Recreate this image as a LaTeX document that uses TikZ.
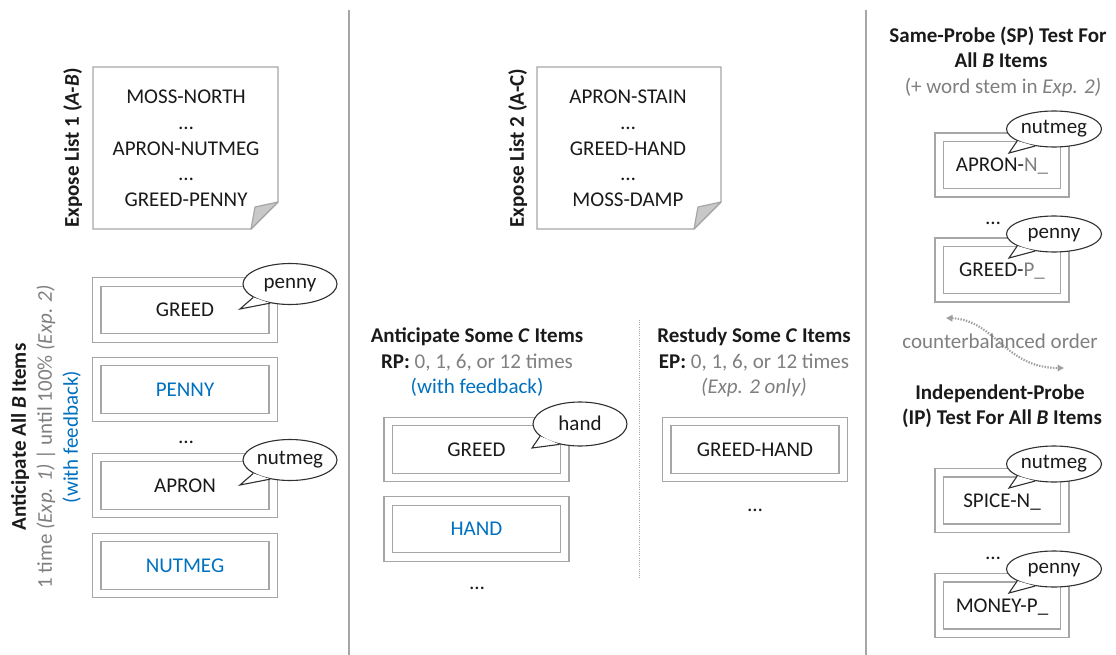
\documentclass[tikz,border=0pt]{standalone}
\usepackage{fontspec}
\setmainfont{Carlito}
\usetikzlibrary{shapes.geometric,arrows.meta}
\definecolor{txt}{HTML}{1A1A1A}
\definecolor{gtxt}{HTML}{7F7F7F}
\definecolor{btxt}{HTML}{0070C0}
\definecolor{boxln}{HTML}{A6A6A6}
\definecolor{sepln}{HTML}{A6A6A6}
\definecolor{foldc}{HTML}{C8C8C8}
\definecolor{bubln}{HTML}{303030}
\definecolor{cbln}{HTML}{A0A0A0}
\newcommand{\mybub}[7]{%
  \node[bubble,#7] (#1) at (#2) {\makebox[0pt]{#3}};
  \coordinate (#1tip) at (#6);
  \fill[white] (#1.#4) -- (#1tip) -- (#1.#5) -- cycle;
  \draw[tail] (#1.#4) -- (#1tip) -- (#1.#5);
}
\begin{document}
\begin{tikzpicture}[x=1pt,y=-1pt,
  every node/.style={font=\fontsize{21}{25.5}\selectfont, text=txt, inner sep=0pt},
  captext/.style={text height=13.5pt, text depth=0pt},
  itembox/.style={captext, draw=boxln, line width=1.15pt, double=white, double distance=7.3pt,
    minimum width=176.5pt, minimum height=56pt},
  smallbox/.style={itembox, minimum width=125.5pt, minimum height=55.5pt},
  bubble/.style={ellipse, draw=bubln, line width=1.1pt, fill=white,
    text height=9pt, text depth=0pt,
    minimum width=94pt, minimum height=41pt},
  rbubble/.style={minimum width=95pt, minimum height=36pt},
  hbubble/.style={minimum height=44pt, text height=12pt},
  tail/.style={draw=bubln, line width=1.1pt, line join=miter},
  note/.style={draw=boxln, line width=1.2pt, fill=white},
  fold/.style={draw=boxln, line width=1.2pt, fill=foldc, line join=round},
  sep/.style={draw=sepln, line width=1.6pt},
  midsep/.style={draw=sepln, line width=1pt, dash pattern=on 1pt off 1.2pt},
  cbarrow/.style={draw=cbln, line width=2.2pt, dash pattern=on 1.4pt off 1.4pt,
    {Triangle[length=6.5pt,width=6.5pt]}-{Triangle[length=6.5pt,width=6.5pt]}},
  gray text/.style={text=gtxt},
  blue text/.style={text=btxt}
]
\useasboundingbox (0,0) rectangle (1116,655);

% separators
\draw[sep] (349,10) -- (349,655);
\draw[sep] (866,10) -- (866,655);
\draw[midsep] (639,320) -- (639,578);

% ---------- note 1 ----------
\draw[note] (93,67) -- (278,67) -- (278,202) -- (251,229) -- (93,229) -- cycle;
\draw[fold] (278,202) -- (255,207) -- (251,229) -- cycle;
\node[captext] (n1a) at (186,97) {MOSS-NORTH};
\node[captext] (n1b) at (186,122.75) {…};
\node[captext] (n1c) at (186,148.5) {APRON-NUTMEG};
\node[captext] (n1d) at (186,174.25) {…};
\node[captext] (n1e) at (186,200) {GREED-PENNY};
\node[captext, rotate=90] (l1) at (72,148) {\textbf{Expose List 1 (\textit{A-B})}};

% ---------- note 2 ----------
\draw[note] (537,67) -- (721,67) -- (721,202) -- (694,229) -- (537,229) -- cycle;
\draw[fold] (721,202) -- (698,207) -- (694,229) -- cycle;
\node[captext] (n2a) at (628,97) {APRON-STAIN};
\node[captext] (n2b) at (628,122.75) {…};
\node[captext] (n2c) at (628,148.5) {GREED-HAND};
\node[captext] (n2d) at (628,174.25) {…};
\node[captext] (n2e) at (628,200) {MOSS-DAMP};
\node[captext, rotate=90] (l2) at (517,148) {\textbf{Expose List 2 (A-C)}};

% ---------- left panel ----------
\node[captext, rotate=90] (la1) at (19,437) {\textbf{Anticipate All \textit{B} Items}};
\node[captext, rotate=90, gray text] (la2) at (45,437) {1 time \textit{(Exp. 1)} | until 100\% \textit{(Exp. 2)}};
\node[captext, rotate=90, blue text] (la3) at (71,437) {(with feedback)};

\node[itembox] (b1) at (185,310) {GREED};
\node[itembox, blue text] (b2) at (185,389.5) {PENNY};
\node[captext] (d1) at (186,437) {…};
\node[itembox] (b3) at (185,485.5) {APRON};
\node[itembox, blue text] (b4) at (185,565.5) {NUTMEG};
\mybub{p1}{290,284}{penny}{200}{224}{240,309}{}
\mybub{m1}{290,460}{nutmeg}{200}{224}{240,485}{}

% ---------- middle panel ----------
\node[captext] (h1) at (477,336) {\textbf{Anticipate Some \textit{C} Items}};
\node[captext] (h2) at (477,362) {\textbf{RP:} \textcolor{gtxt}{0, 1, 6, or 12 times}};
\node[captext, blue text] (h3) at (477,387) {(with feedback)};
\node[itembox] (c1) at (476.5,449.5) {GREED};
\node[itembox, blue text] (c2) at (476.5,529) {HAND};
\node[captext] (d2) at (477,583) {…};
\mybub{hd}{580,424}{hand}{197}{225}{532,448}{hbubble}

\node[captext] (r1) at (754,336) {\textbf{Restudy Some \textit{C} Items}};
\node[captext] (r2) at (754,362) {\textbf{EP:} \textcolor{gtxt}{0, 1, 6, or 12 times}};
\node[captext, gray text] (r3) at (754,387) {\textit{(Exp. 2 only)}};
\node[itembox] (e1) at (755,449.5) {GREED-HAND};
\node[captext] (d3) at (755,505) {…};

% ---------- right panel ----------
\node[captext] (s1) at (998,36) {\textbf{Same-Probe (SP) Test For}};
\node[captext] (s2) at (1001,61) {\textbf{All \textit{B} Items}};
\node[captext, gray text] (s3) at (1003,87) {(+ word stem in \textit{Exp. 2)}};
\node[smallbox] (t1) at (1002,165) {APRON-\textcolor{gtxt}{N\_}};
\node[captext] (d4) at (993,218) {…};
\node[smallbox] (t2) at (1002,270) {GREED-\textcolor{gtxt}{P\_}};
\mybub{q1}{1054,129}{nutmeg}{198}{222}{1009,153}{rbubble}
\mybub{q2}{1054,234}{penny}{198}{222}{1009,258}{rbubble}

\coordinate (cbL) at (946,318);
\coordinate (cbR) at (1064,368);
\draw[cbarrow] (cbL) .. controls (995,320) and (1005,368) .. (cbR);
\node[captext, gray text] (cb) at (1000,342) {counterbalanced order};

\node[captext] (i1) at (1000,393) {\textbf{Independent-Probe}};
\node[captext] (i2) at (1002,418) {\textbf{(IP) Test For All \textit{B} Items}};
\node[smallbox] (t3) at (1002,500.5) {SPICE-N\_};
\node[captext] (d5) at (993,553) {…};
\node[smallbox] (t4) at (1002,605.5) {MONEY-P\_};
\mybub{q3}{1054,464}{nutmeg}{198}{222}{1009,488}{rbubble}
\mybub{q4}{1054,569}{penny}{198}{222}{1009,593}{rbubble}
\end{tikzpicture}
\end{document}
